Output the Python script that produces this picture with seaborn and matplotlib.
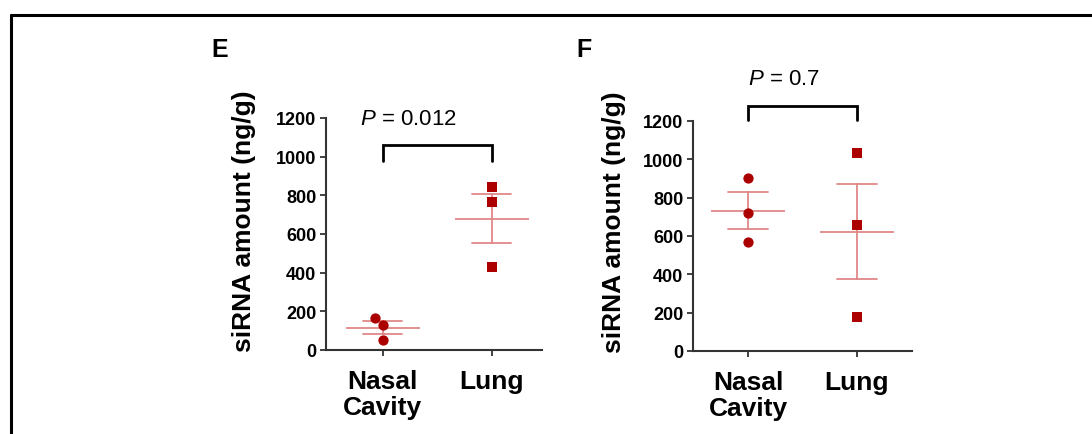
import matplotlib
matplotlib.use("Agg")
import matplotlib.pyplot as plt
import seaborn as sns
import pandas as pd

# siRNA tissue amounts (ng/g), three animals per tissue
categories = ["Nasal\nCavity", "Lung"]
e_nasal = [165, 130, 50]
e_lung = [845, 765, 430]
f_nasal = [905, 720, 570]
f_lung = [1035, 660, 175]
p_labels = ["0.012", "0.7"]
panel_letters = ["E", "F"]
y_ticks = [0, 200, 400, 600, 800, 1000, 1200]

sns.set_theme(style="ticks")
plt.rcParams["font.family"] = ["Liberation Sans", "DejaVu Sans"]
plt.rcParams["mathtext.fontset"] = "custom"
plt.rcParams["mathtext.it"] = "Liberation Sans:italic"
plt.rcParams["mathtext.rm"] = "Liberation Sans"
for key in ["text.color", "axes.labelcolor", "xtick.labelcolor", "ytick.labelcolor"]:
    plt.rcParams[key] = "black"

POINT_COLOR = "#ac0000"
BAR_COLOR = "#e08888"
AXIS_COLOR = "#333333"

fig = plt.figure(figsize=(10.92, 4.35), dpi=100)

# frame lines along the top and left edge of the figure
fig.add_artist(plt.Line2D([11 / 1092, 11 / 1092], [0, 1 - 16 / 435],
                          transform=fig.transFigure, color="black", lw=2.2))
fig.add_artist(plt.Line2D([11 / 1092, 1], [1 - 16 / 435, 1 - 16 / 435],
                          transform=fig.transFigure, color="black", lw=2.2))

panels = [
    dict(nasal=e_nasal, lung=e_lung, p=p_labels[0], letter=panel_letters[0],
         rect=[326 / 1092, 84 / 435, 216 / 1092, 232 / 435], xlim=(-0.52, 1.46),
         bracket=(1060, 978), ptext=(-0.21, 1169), letter_xy=(211, 57),
         label_xy=(-0.325, 0.56)),
    dict(nasal=f_nasal, lung=f_lung, p=p_labels[1], letter=panel_letters[1],
         rect=[693 / 1092, 83 / 435, 219 / 1092, 230 / 435], xlim=(-0.505, 1.505),
         bracket=(1278, 1205), ptext=(0.0, 1393), letter_xy=(576, 57),
         label_xy=(-0.305, 0.565)),
]

for pn in panels:
    ax = fig.add_axes(pn["rect"])
    df = pd.DataFrame({
        "tissue": [categories[0]] * len(pn["nasal"]) + [categories[1]] * len(pn["lung"]),
        "amount": pn["nasal"] + pn["lung"],
    })

    # mean line with SEM error bars
    sns.pointplot(data=df, x="tissue", y="amount", order=categories,
                  estimator="mean", errorbar="se", capsize=0.36,
                  color=BAR_COLOR, markers="_", linestyles="none",
                  markersize=53, markeredgewidth=1.3,
                  err_kws={"linewidth": 1.3}, ax=ax, zorder=2)

    # individual animals
    sns.swarmplot(data=df[df.tissue == categories[0]], x="tissue", y="amount",
                  order=categories, color=POINT_COLOR, marker="o", size=7.4,
                  linewidth=0, ax=ax, zorder=3)
    sns.swarmplot(data=df[df.tissue == categories[1]], x="tissue", y="amount",
                  order=categories, color=POINT_COLOR, marker="s", size=7.2,
                  linewidth=0, ax=ax, zorder=3)

    ax.set_xlim(*pn["xlim"])
    ax.set_ylim(0, 1200)
    ax.set_yticks(y_ticks)
    ax.set_yticklabels([str(v) for v in y_ticks], fontsize=13, fontweight="bold")
    ax.set_xticks([0, 1])
    ax.set_xticklabels(categories, fontsize=19, fontweight="bold", linespacing=1.1)
    ax.set_xlabel("")
    ax.set_ylabel("siRNA amount (ng/g)", fontsize=19, fontweight="bold")
    ax.yaxis.set_label_coords(*pn["label_xy"])
    ax.tick_params(axis="y", length=4, width=1.3, color=AXIS_COLOR, pad=3)
    ax.tick_params(axis="x", length=4, width=1.3, color=AXIS_COLOR, pad=10)
    for side in ["top", "right"]:
        ax.spines[side].set_visible(False)
    for side in ["left", "bottom"]:
        ax.spines[side].set_color(AXIS_COLOR)
        ax.spines[side].set_linewidth(1.5)

    # significance bracket and P value
    top, foot = pn["bracket"]
    ax.plot([0, 0, 1, 1], [foot, top, top, foot], color="black", lw=2,
            clip_on=False, solid_joinstyle="miter")
    ax.text(pn["ptext"][0], pn["ptext"][1], r"$P$ = " + pn["p"], fontsize=16,
            ha="left", va="baseline", clip_on=False)

    fig.text(pn["letter_xy"][0] / 1092, 1 - pn["letter_xy"][1] / 435, pn["letter"],
             fontsize=18, fontweight="bold", ha="left", va="baseline")

fig.savefig("out.png", dpi=100)
